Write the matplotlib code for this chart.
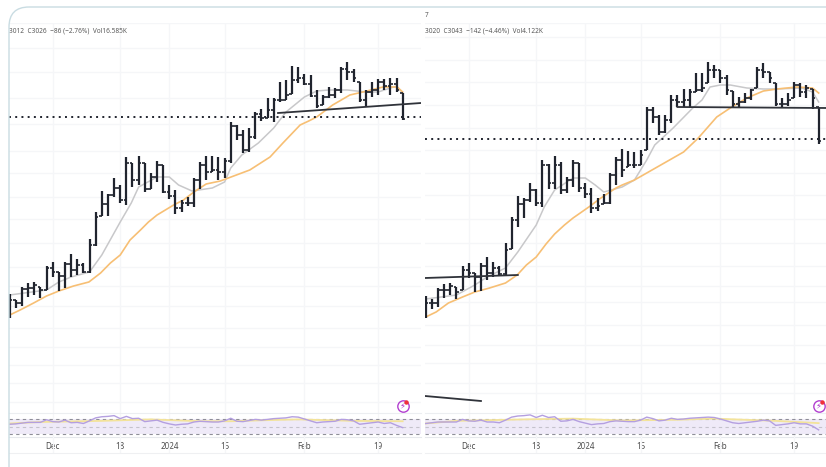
# -*- coding: utf-8 -*-
"""
Two side by side bar charts with moving averages and an RSI strip underneath.
Price units are arbitrary since the reference shows no price scale.
"""
import numpy as np
import matplotlib
matplotlib.use('Agg')
import matplotlib.pyplot as plt
from matplotlib.patches import FancyBboxPatch

plt.rcParams['font.family'] = ['Noto Sans', 'DejaVu Sans']

WIDTH = 826
HEIGHT = 467

TICK_BARS = [7, 18, 26, 35, 48, 60]
TICK_LABELS = ['Dec', '18', '2024', '15', 'Feb', '19']

LEFT_HIGH = [121, 115, 128, 132, 133, 128, 149, 153, 143, 153, 161, 156, 152,
             176, 203, 224, 221, 237, 230, 258, 252, 259, 252, 242, 254, 250,
             230, 225, 215, 218, 237, 253, 259, 259, 258, 257, 293, 290, 285,
             287, 303, 306, 317, 317, 333, 335, 349, 348, 341, 340, 325, 320,
             328, 327, 348, 353, 346, 333, 325, 333, 336, 336, 337, 337, 322]
LEFT_LOW = [97, 107, 109, 118, 120, 117, 125, 138, 124, 127, 138, 140, 142,
            142, 169, 199, 199, 218, 212, 210, 228, 230, 223, 226, 233, 222,
            216, 201, 203, 209, 208, 226, 235, 243, 235, 237, 252, 275, 262,
            263, 276, 294, 297, 293, 313, 315, 321, 332, 330, 318, 307, 310,
            317, 317, 322, 335, 333, 313, 309, 318, 320, 325, 320, 323, 295]
LEFT_CLOSE = [115, 112, 126, 127, 130, 125, 147, 143, 139, 151, 145, 150, 143,
              170, 198, 211, 220, 227, 215, 252, 235, 252, 226, 238, 250, 223,
              219, 207, 212, 212, 235, 250, 243, 245, 243, 254, 289, 280, 265,
              278, 301, 297, 305, 315, 315, 320, 335, 337, 331, 319, 309, 318,
              320, 325, 346, 343, 337, 315, 323, 325, 333, 329, 331, 325, 296]

RIGHT_HIGH = [119, 116, 127, 131, 132, 128, 149, 152, 142, 152, 158, 153, 149,
              172, 198, 219, 217, 232, 226, 255, 251, 259, 253, 238, 255, 252,
              232, 227, 217, 221, 242, 258, 266, 264, 263, 265, 308, 308, 300,
              300, 320, 320, 326, 326, 342, 342, 353, 350, 345, 340, 324, 318,
              322, 326, 348, 352, 343, 332, 317, 322, 333, 332, 330, 326, 308]
RIGHT_LOW = [97, 106, 108, 117, 120, 116, 125, 137, 123, 124, 135, 138, 140,
             140, 166, 188, 197, 213, 209, 208, 226, 226, 221, 222, 228, 223,
             217, 202, 204, 211, 211, 230, 238, 248, 247, 250, 265, 292, 280,
             282, 292, 308, 308, 307, 323, 323, 332, 337, 332, 320, 308, 308,
             312, 315, 327, 337, 332, 309, 308, 309, 317, 318, 317, 306, 271]
RIGHT_CLOSE = [112, 112, 125, 125, 129, 123, 145, 142, 138, 149, 142, 147, 141,
               165, 195, 211, 215, 225, 212, 250, 232, 250, 225, 235, 252, 227,
               221, 207, 209, 212, 240, 255, 245, 250, 250, 260, 305, 298, 283,
               295, 315, 313, 315, 323, 325, 327, 345, 345, 337, 325, 311, 313,
               317, 325, 345, 343, 337, 311, 311, 315, 330, 323, 327, 317, 274]

LEFT_ORANGE_BARS = [0, 1.7, 3.9, 6, 8, 10.4, 12.9, 14.8, 16.4, 18, 19.6, 21.3,
                    22.6, 24, 26.7, 28.3, 30, 31, 32, 34.3, 39.1, 42.4, 44.5,
                    47.3, 48.7, 50, 52.6, 55.4, 57.5, 60.8, 63.1, 64]
LEFT_ORANGE = [100, 105, 112, 119, 124, 129, 133, 142, 152, 160, 175, 185, 193,
               200, 210, 215, 223, 227, 231, 234, 245, 258, 272, 290, 294, 298,
               310, 320, 323, 328, 328, 323]
LEFT_GREY_BARS = [0, 6, 8, 10, 13, 15, 18, 19.8, 21, 24, 26, 27.5, 29.7, 33,
                  35, 36, 37.8, 40.5, 43, 45, 48, 50, 52, 55, 58, 60, 63, 64]
LEFT_GREY = [120, 125, 133, 138, 143, 160, 193, 212, 228, 238, 238, 230, 224,
             227, 233, 247, 260, 272, 287, 303, 318, 324, 325, 325, 323, 323,
             329, 322]

RIGHT_ORANGE_BARS = [0, 1.7, 3.7, 6, 8, 10.4, 13, 14.9, 16.4, 18, 19.6, 21,
                     22.6, 24, 26.8, 28.3, 30, 31, 32, 34, 40, 42, 44.4, 47.4,
                     49.6, 52.3, 55, 57.2, 60.5, 63, 64]
RIGHT_ORANGE = [98, 103, 112, 118, 123, 127, 132, 140, 150, 158, 171, 181, 190,
                197, 209, 216, 223, 227, 230, 235, 256, 263, 277, 298, 307,
                317, 324, 326, 328, 327, 322]
RIGHT_GREY_BARS = [0, 5, 8, 10, 13, 15, 18, 19.3, 21, 24, 26, 27.6, 29, 32, 34,
                   36, 37.3, 40.3, 43.5, 45, 46.3, 48, 49.6, 52.3, 55, 57,
                   61.3, 63, 64]
RIGHT_GREY = [116, 120, 130, 138, 147, 163, 190, 208, 225, 237, 237, 230, 223,
              228, 235, 255, 270, 287, 307, 315, 328, 330, 330, 327, 326, 326,
              327, 323, 313]

LEFT_RSI = [56, 57, 59, 61, 61, 61, 68, 63, 62, 67, 60, 61, 58, 65, 73, 76, 77,
            79, 71, 77, 71, 72, 63, 65, 67, 61, 57, 54, 56, 57, 62, 64, 63, 62,
            62, 65, 72, 64, 63, 66, 69, 67, 69, 71, 72, 73, 76, 75, 70, 65, 60,
            62, 63, 64, 69, 68, 65, 56, 58, 60, 62, 58, 60, 53, 47]
LEFT_RSI_MA_BARS = [0, 5, 15, 23, 31, 36, 42, 47, 56, 64]
LEFT_RSI_MA = [58, 62, 65, 69, 64, 64, 67, 69, 65, 64]

RIGHT_RSI = [58, 60, 62, 62, 62, 62, 69, 65, 64, 67, 62, 62, 60, 67, 75, 78, 79,
             81, 74, 80, 74, 76, 64, 65, 69, 63, 59, 55, 57, 58, 63, 65, 64, 63,
             63, 67, 75, 71, 65, 67, 72, 69, 70, 72, 73, 74, 75, 74, 70, 65, 60,
             58, 60, 62, 64, 67, 65, 53, 55, 57, 60, 57, 57, 51, 41]
RIGHT_RSI_MA_BARS = [0, 5, 16, 24, 32, 41, 47, 57, 64]
RIGHT_RSI_MA = [58, 65, 69, 71, 66, 68, 71, 65, 59]

LEFT_GRID = [392, 367, 343, 317, 291, 264, 242, 218, 196, 172, 148, 129, 109,
             87, 68, 50, 32, 13]
RIGHT_GRID = [392, 378, 355, 333, 310, 287, 265, 242, 220, 196, 172, 149, 129,
              113, 90, 70, 52, 32, 22]

LEFT_LEVEL = 298
RIGHT_LEVEL = 276
LEFT_TRENDS = [([43.7, 67], [302, 312])]
RIGHT_TRENDS = [([41, 65.3], [308, 307]), ([-0.1, 15], [137, 140]),
                ([-0.1, 9], [19, 14])]

LEFT_HEADER = '3012  C3026  \u221286 (\u22122.76%)  Vol16.585K'
RIGHT_HEADER = '3020  C3043  \u2212142 (\u22124.46%)  Vol4.122K'

BAR_COLOUR = '#20242e'
GRID_COLOUR = '#f5f6f8'
FIRST_BAR_PX = 9.7
BAR_STEP_PX = 6.14


def make_axes(figure, left, top, right, bottom):
    """ Returns axes placed by pixel edges of the figure. """
    axes = figure.add_axes([left / WIDTH, 1 - bottom / HEIGHT,
                            (right - left) / WIDTH, (bottom - top) / HEIGHT])
    axes.patch.set_alpha(0)
    for spine in axes.spines.values():
        spine.set_visible(False)
    return axes


def draw_panel(figure, box, series, header):
    """ Draws one price pane, its RSI strip and the date axis below. """
    left, right, bar_zero = box
    high, low, close = series['bars']
    bars = np.arange(len(high))
    high = np.array(high)
    low = np.array(low)
    close = np.array(close)
    opens = np.clip(np.concatenate(([close[0]], close[:-1])), low, high)

    x_limits = ((left - bar_zero) / BAR_STEP_PX, (right - bar_zero) / BAR_STEP_PX)

    price = make_axes(figure, left, 23, right, 413)
    price.set_xlim(x_limits)
    price.set_ylim(2, 392)
    price.set_xticks(TICK_BARS)
    price.set_yticks(series['grid'])
    price.tick_params(length=0, labelbottom=False, labelleft=False)
    price.grid(True, color=GRID_COLOUR, linewidth=1)
    price.set_axisbelow(True)

    price.plot(series['grey_bars'], series['grey'], color='#c8c8ca', linewidth=1.1)
    price.plot(series['orange_bars'], series['orange'], color='#f7bf74',
               linewidth=1.2)
    price.vlines(bars, low, high, color=BAR_COLOUR, linewidth=1.6)
    price.hlines(opens, bars - 0.45, bars, color=BAR_COLOUR, linewidth=1.2)
    price.hlines(close, bars, bars + 0.45, color=BAR_COLOUR, linewidth=1.2)
    price.axhline(series['level'], color=BAR_COLOUR, linewidth=1.4,
                  linestyle=(0, (1, 2.2)))
    for trend_x, trend_y in series['trends']:
        price.plot(trend_x, trend_y, color='#30333a', linewidth=1.3)
    price.text(0.0, 0.979, header, transform=price.transAxes, fontsize=4.7,
               color='#5a5a5a', va='center')

    rsi = make_axes(figure, left, 413, right, 437)
    rsi.set_xlim(x_limits)
    rsi.set_ylim(22, 86)
    rsi.axhspan(30, 70, color='#efeaf8', linewidth=0)
    for level, shade in ((30, '#8f8f98'), (50, '#c4c2cc'), (70, '#8f8f98')):
        rsi.axhline(level, color=shade, linewidth=0.8, linestyle=(0, (3, 3)))
    rsi.plot(series['rsi_ma_bars'], series['rsi_ma'], color='#f3e39a',
             linewidth=1.3)
    rsi.plot(bars, series['rsi'], color='#b49fe0', linewidth=1)
    rsi.set_yticks([])
    rsi.set_xticks(TICK_BARS)
    rsi.set_xticklabels(TICK_LABELS, fontsize=5.8, color='#4a4a4a')
    rsi.tick_params(axis='x', length=0, pad=3.5)
    rsi.grid(True, axis='x', color=GRID_COLOUR, linewidth=1)
    rsi.set_axisbelow(True)
    rsi.spines['top'].set_visible(True)
    rsi.spines['bottom'].set_visible(True)
    rsi.spines['top'].set_color('#eceef1')
    rsi.spines['bottom'].set_color('#e6e8ec')

    strip = make_axes(figure, left, 437, right, 453)
    strip.set_xlim(x_limits)
    strip.set_xticks(TICK_BARS)
    strip.set_yticks([])
    strip.tick_params(length=0, labelbottom=False)
    strip.grid(True, axis='x', color=GRID_COLOUR, linewidth=1)
    strip.spines['bottom'].set_visible(True)
    strip.spines['bottom'].set_color('#eff0f2')

    # purple alert badge close to the last bar
    icon_x = bar_zero + 64 * BAR_STEP_PX
    badge = figure.add_axes([0, 0, 1, 1])
    badge.axis('off')
    badge.set_xlim(0, WIDTH)
    badge.set_ylim(HEIGHT, 0)
    badge.plot([icon_x], [405.5], 'o', markersize=8.2, markerfacecolor='none',
               markeredgecolor='#b23fd0', markeredgewidth=1)
    badge.plot([icon_x + 3.8], [401.5], 'o', markersize=2.2, color='#f0303a')
    badge.text(icon_x, 405.5, '\u26a1', color='#a92fc8', fontsize=6,
               ha='center', va='center', family='DejaVu Sans')


FIGURE = plt.figure(figsize=(WIDTH / 100, HEIGHT / 100), dpi=100)

LEFT_SERIES = {'bars': (LEFT_HIGH, LEFT_LOW, LEFT_CLOSE), 'grid': LEFT_GRID,
               'grey_bars': LEFT_GREY_BARS, 'grey': LEFT_GREY,
               'orange_bars': LEFT_ORANGE_BARS, 'orange': LEFT_ORANGE,
               'level': LEFT_LEVEL, 'trends': LEFT_TRENDS, 'rsi': LEFT_RSI,
               'rsi_ma_bars': LEFT_RSI_MA_BARS, 'rsi_ma': LEFT_RSI_MA}
RIGHT_SERIES = {'bars': (RIGHT_HIGH, RIGHT_LOW, RIGHT_CLOSE), 'grid': RIGHT_GRID,
                'grey_bars': RIGHT_GREY_BARS, 'grey': RIGHT_GREY,
                'orange_bars': RIGHT_ORANGE_BARS, 'orange': RIGHT_ORANGE,
                'level': RIGHT_LEVEL, 'trends': RIGHT_TRENDS, 'rsi': RIGHT_RSI,
                'rsi_ma_bars': RIGHT_RSI_MA_BARS, 'rsi_ma': RIGHT_RSI_MA}

draw_panel(FIGURE, (9, 421, FIRST_BAR_PX), LEFT_SERIES, LEFT_HEADER)
draw_panel(FIGURE, (425, 826, 425.7), RIGHT_SERIES, RIGHT_HEADER)

FIGURE.text(425 / WIDTH, 1 - 15.5 / HEIGHT, '7', fontsize=4.7, color='#5a5a5a',
            va='center')

# rounded card outline, it runs off the right and bottom of the picture
CARD = FIGURE.add_axes([0, 0, 1, 1])
CARD.axis('off')
CARD.set_xlim(0, WIDTH)
CARD.set_ylim(HEIGHT, 0)
CARD.add_patch(FancyBboxPatch((29, 27), 900, 452,
                              boxstyle='round,pad=20,rounding_size=20',
                              facecolor='none', edgecolor='#c9dce2',
                              linewidth=1))

FIGURE.savefig('out.png', dpi=100, facecolor='white')
